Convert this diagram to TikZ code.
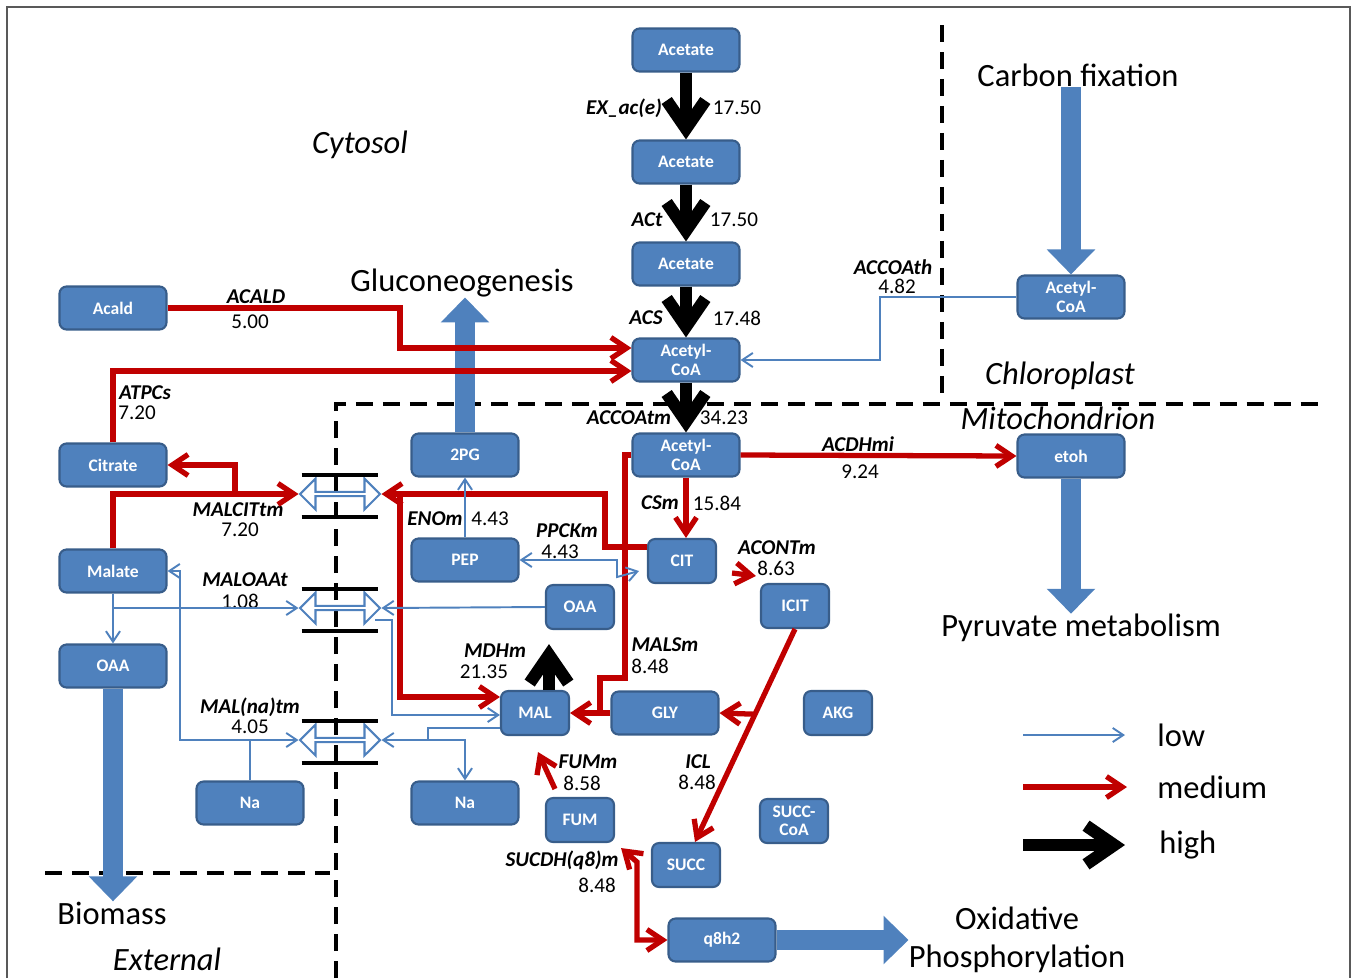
\documentclass[tikz,border=0pt]{standalone}
\usepackage{fontspec}
\setmainfont{Carlito}
\usetikzlibrary{arrows.meta,calc,shapes.arrows}
\definecolor{boxblue}{RGB}{79,129,189}
\definecolor{boxedge}{RGB}{56,93,138}
\definecolor{fluxred}{RGB}{192,0,0}
\definecolor{fluxblue}{RGB}{79,129,189}
\tikzset{
    met/.style={rectangle,rounded corners=4pt,fill=boxblue,draw=boxedge,line width=1.2pt,
        text=white,font=\bfseries\fontsize{10}{10.5}\selectfont,align=center,
        minimum width=2.14cm,minimum height=0.86cm,inner sep=1pt},
    smallmet/.style={met,minimum width=1.36cm,minimum height=0.88cm},
    rxn/.style={font=\bfseries\itshape\fontsize{12}{13}\selectfont,inner sep=0pt},
    val/.style={font=\fontsize{12}{13}\selectfont,inner sep=0pt},
    region/.style={font=\fontsize{18.5}{21.5}\selectfont,inner sep=0pt,align=center},
    compart/.style={font=\itshape\fontsize{18.5}{21.5}\selectfont,inner sep=0pt},
    low/.style={draw=fluxblue,line width=1.1pt,>={Straight Barb[length=6pt,width=8pt]},->},
    medium/.style={draw=fluxred,line width=3pt,>={Straight Barb[length=9pt,width=12pt]},->},
    high/.style={draw=black,line width=7pt,>={Straight Barb[length=16pt,width=22pt]},->},
    bigarrow/.style={draw=boxblue,line width=0.4cm,-{Triangle[length=0.5cm,width=0.94cm]}},
    boundary/.style={draw=black,line width=2.2pt,dash pattern=on 0.34cm off 0.2cm},
    carrier/.style={double arrow,draw=fluxblue,fill=white,line width=1.2pt,
        minimum height=1.6cm,minimum width=0.62cm,inner sep=0pt,double arrow head extend=0.13cm},
    bar/.style={draw=black,line width=2.2pt},
}
\begin{document}
\begin{tikzpicture}[x=0.02cm,y=-0.02cm]
    \useasboundingbox (0,0) rectangle (1356,978);
    \draw[gray!70!black,line width=1.2pt] (7,978) -- (7,7) -- (1350,7) -- (1350,978);

    \draw[boundary] (942,25) -- (942,395);
    \draw[boundary] (336,978) -- (336,404) -- (1318,404);
    \draw[boundary] (45,873) -- (330,873);

    \node[compart] (cytosol) at (360,145) {Cytosol};
    \node[compart] (chloro) at (1060,376) {Chloroplast};
    \node[compart] (mito) at (1058,418) {Mitochondrion};
    \node[compart] (external) at (167,959) {External};
    \node[region] (gluco) at (462,283) {Gluconeogenesis};
    \node[region] (cfix) at (1078,75) {Carbon fixation};
    \node[region] (pyr) at (1081,628) {Pyruvate metabolism};
    \node[region] (biomass) at (112,913) {Biomass};
    \node[region] (oxphos) at (1017,940) {Oxidative\\Phosphorylation};

    \node[met] (acet1) at (686,50) {Acetate};
    \node[met] (acet2) at (686,162) {Acetate};
    \node[met] (acet3) at (686,264) {Acetate};
    \node[met] (accoac) at (686,360) {Acetyl-\\CoA};
    \node[met] (accoam) at (686,455) {Acetyl-\\CoA};
    \node[met] (accoah) at (1071,297) {Acetyl-\\CoA};
    \node[met] (etoh) at (1071,456) {etoh};
    \node[met] (acald) at (113,308) {Acald};
    \node[met] (citrate) at (113,465) {Citrate};
    \node[met] (malate) at (113,571) {Malate};
    \node[met] (oaac) at (113,666) {OAA};
    \node[met] (naL) at (250,803) {Na};
    \node[met] (pg2) at (465,455) {2PG};
    \node[met] (pep) at (465,560) {PEP};
    \node[met] (naR) at (465,803) {Na};
    \node[met] (gly) at (665,713) {GLY};
    \node[met] (q8h2) at (722,940) {q8h2};
    \node[smallmet] (oaam) at (580,607) {OAA};
    \node[smallmet] (mal) at (535,713) {MAL};
    \node[smallmet] (cit) at (682,561) {CIT};
    \node[smallmet] (icit) at (795,606) {ICIT};
    \node[smallmet] (akg) at (838,713) {AKG};
    \node[smallmet] (fum) at (580,820) {FUM};
    \node[smallmet] (succoa) at (794,821) {SUCC-\\CoA};
    \node[smallmet] (succ) at (686,865) {SUCC};

    \node[carrier] (t1) at (340,494) {};
    \node[carrier] (t2) at (340,608) {};
    \node[carrier] (t3) at (340,740) {};
    \foreach \tp in {t1,t2,t3} {
        \draw[bar] ($(\tp.west)+(3,-19)$) -- ($(\tp.east)+(-3,-19)$);
        \draw[bar] ($(\tp.west)+(3,23)$) -- ($(\tp.east)+(-3,23)$);
    }

    \node[rxn] (exac) at (624,108) {EX\_ac(e)};
    \node[val] (exacv) at (737,108) {17.50};
    \node[rxn] (act) at (647,220) {ACt};
    \node[val] (actv) at (734,220) {17.50};
    \node[rxn] (acs) at (646,318) {ACS};
    \node[val] (acsv) at (737,318) {17.48};
    \node[rxn] (accoatm) at (629,418) {ACCOAtm};
    \node[val] (accoatmv) at (724,418) {34.23};
    \node[rxn] (accoath) at (893,267) {ACCOAth};
    \node[val] (accoathv) at (897,286) {4.82};
    \node[rxn] (acaldr) at (256,297) {ACALD};
    \node[val] (acaldv) at (250,322) {5.00};
    \node[rxn] (atpcs) at (145,393) {ATPCs};
    \node[val] (atpcsv) at (137,413) {7.20};
    \node[rxn] (malcit) at (238,510) {MALCITtm};
    \node[val] (malcitv) at (240,530) {7.20};
    \node[rxn] (enom) at (435,519) {ENOm};
    \node[val] (enomv) at (490,519) {4.43};
    \node[rxn] (ppckm) at (567,531) {PPCKm};
    \node[val] (ppckmv) at (560,552) {4.43};
    \node[rxn] (csm) at (660,503) {CSm};
    \node[val] (csmv) at (717,503) {15.84};
    \node[rxn] (acdhmi) at (858,444) {ACDHmi};
    \node[val] (acdhmiv) at (860,472) {9.24};
    \node[rxn] (acontm) at (777,548) {ACONTm};
    \node[val] (acontmv) at (776,568) {8.63};
    \node[rxn] (maloaa) at (245,580) {MALOAAt};
    \node[val] (maloaav) at (240,601) {1.08};
    \node[rxn] (mdhm) at (495,651) {MDHm};
    \node[val] (mdhmv) at (484,672) {21.35};
    \node[rxn] (malsm) at (665,645) {MALSm};
    \node[val] (malsmv) at (650,666) {8.48};
    \node[rxn] (malna) at (250,707) {MAL(na)tm};
    \node[val] (malnav) at (250,727) {4.05};
    \node[rxn] (fumm) at (588,762) {FUMm};
    \node[val] (fummv) at (582,783) {8.58};
    \node[rxn] (icl) at (698,762) {ICL};
    \node[val] (iclv) at (697,782) {8.48};
    \node[rxn] (sucdh) at (562,860) {SUCDH(q8)m};
    \node[val] (sucdhv) at (597,885) {8.48};

    \draw[bigarrow] (cfix.south -| accoah.north) -- (accoah.north);
    \draw[bigarrow] (pg2.north) -- (pg2.north |- gluco.south);
    \draw[bigarrow] (etoh.south) -- (etoh.south |- pyr.north);
    \draw[bigarrow] (oaac.south) -- (oaac.south |- biomass.north);
    \draw[bigarrow] (q8h2.east) -- (oxphos.west);

    \draw[high] (acet1) -- (acet2);
    \draw[high] (acet2) -- (acet3);
    \draw[high] (acet3) -- (accoac);
    \draw[high] (accoac) -- (accoam);
    \draw[high] ($(mal.north)+(14,0)$) -- ($(oaam.south)+(-31,14)$);

    \coordinate (mjoin) at (400,494);
    \coordinate (cjoin) at (235,494);
    \draw[medium] (acald.east) -| (400,348) -- ($(accoac.west)+(0,-12)$);
    \draw[medium] (citrate.north) |- ($(accoac.west)+(0,11)$);
    \draw[medium] (malate.north) |- (t1.west);
    \draw[medium] (cjoin) |- (citrate.east);
    \draw[medium] ($(cit.west)+(0,-14)$) -| (605,494) -- (t1.east);
    \draw[medium] (mjoin) |- ($(mal.west)+(0,-16)$);
    \draw[medium] (accoam.east) -- (etoh.west);
    \draw[medium] (accoam.south) -- (accoam.south |- cit.north);
    \draw[medium] ($(cit.east)+(15,12)$) -- ($(icit.north west)+(-4,-7)$);
    \draw[medium] (icit.south) -- coordinate[pos=0.4] (iclmid) ($(succ.north)+(9,0)$);
    \draw[medium] (iclmid) -- (gly.east);
    \draw[medium] (gly.west) -- (mal.east);
    \draw[medium,-] (accoam.west) -| (625,678) -| (600,713);
    \draw[medium] ($(fum.north)+(-25,-8)$) -- ($(mal.south)+(3,16)$);
    \draw[medium,<->] ($(fum.south east)+(6,5)$) -- (637,862) |- (q8h2.west);

    \coordinate (najoin) at (428,740);
    \draw[low] (accoah.west) -| (880,360) -- (accoac.east);
    \draw[low] (pep) -- (pg2);
    \draw[low,<->] (pep.east) -| (617,577) -- ($(cit.west)+(-8,10)$);
    \draw[low] (oaam.west) -- (t2.east);
    \draw[low] (malate.south) -- (oaac.north);
    \draw[low] (malate.south) |- (t2.west);
    \draw[low] ($(t2.east)+(-6,12)$) -| (392,715) -- ($(mal.west)+(0,2)$);
    \draw[low,<->] (malate.east) -| (180,740) -- (t3.west);
    \draw[low,-] (naL.north) -- (naL.north |- t3.west);
    \draw[low] ($(mal.west)+(0,15)$) -| (najoin) -- (t3.east);
    \draw[low] (najoin) -| (naR.north);

    \node[region,anchor=west] (lowtxt) at (1157,735) {low};
    \node[region,anchor=west] (medtxt) at (1157,787) {medium};
    \node[region,anchor=west] (hightxt) at (1159,845) {high};
    \draw[low] ($(lowtxt.west)+(-134,0)$) -- ($(lowtxt.west)+(-32,0)$);
    \draw[medium] ($(medtxt.west)+(-134,0)$) -- ($(medtxt.west)+(-30,0)$);
    \draw[high] ($(hightxt.west)+(-136,0)$) -- ($(hightxt.west)+(-34,0)$);
\end{tikzpicture}
\end{document}
